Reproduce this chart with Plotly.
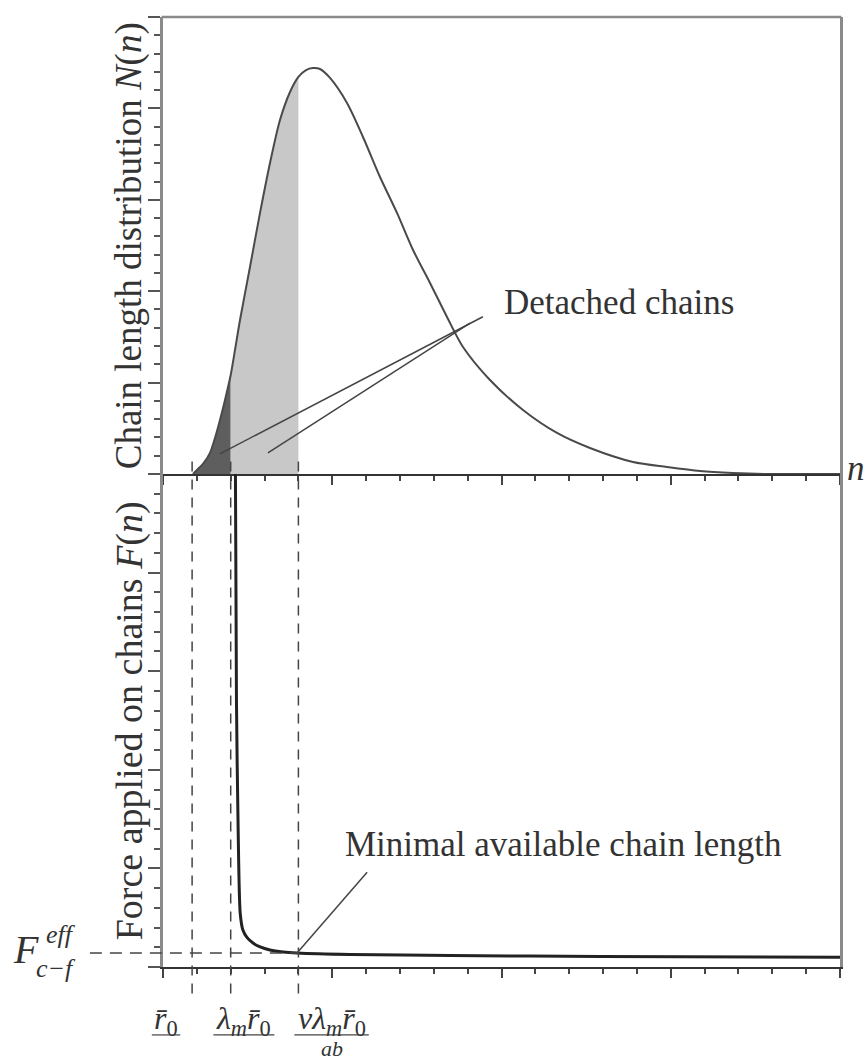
import plotly.graph_objects as go

# ---------------- data ----------------
# chain length distribution N(n)   (x: n in axis units 0..20, y: 0..5)
N_X = [0.886, 1.004, 1.182, 1.388, 1.536, 1.684, 1.832, 2.000, 2.127, 2.275, 2.570, 2.866,
       3.161, 3.456, 3.752, 4.000, 4.224, 4.431, 4.638, 4.934, 5.436, 5.908, 6.411, 6.913,
       7.386, 7.888, 8.390, 8.863, 9.660, 10.635, 11.640, 12.614, 13.885, 14.889, 15.864,
       16.839, 17.814, 20.0]
N_Y = [0.000, 0.044, 0.109, 0.230, 0.394, 0.591, 0.810, 1.083, 1.357, 1.685, 2.265, 2.856,
       3.403, 3.873, 4.179, 4.344, 4.420, 4.442, 4.431, 4.333, 4.059, 3.687, 3.249, 2.856,
       2.451, 2.090, 1.718, 1.389, 1.028, 0.700, 0.449, 0.284, 0.131, 0.077, 0.033,
       0.011, 0.0, 0.0]

# force applied on chains F(n)
F_X = [2.14, 2.17, 2.22, 2.28, 2.36, 2.48, 2.66, 2.87, 3.16, 3.55, 3.96, 5.52, 8.48, 12.91, 20.0]
F_Y = [5.0, 2.71, 1.39, 0.55, 0.375, 0.30, 0.243, 0.203, 0.172, 0.152, 0.142, 0.127, 0.117, 0.106, 0.10]

# characteristic lengths (dashed verticals) and effective force
R0 = 0.86
LAM_R0 = 2.0
NU_LAM_R0 = 4.0
F_EFF = 0.142

X_RANGE = [0, 20]
Y_RANGE = [0, 5]

TICK_LABELS = ["<i>r̄</i><sub>0</sub>",
               "<i>λ</i><sub><i>m</i></sub><i>r̄</i><sub>0</sub>",
               "<i>νλ</i><sub><i>m</i></sub><i>r̄</i><sub>0</sub>"]
TICK_LABEL_X = [0.09, 2.39, 4.98]     # label centres (n units)
TICK_BAR_HALF = [0.42, 0.9, 1.1]      # half width of fraction bars (n units)
DENOM = "<i>ab</i>"

# annotation leaders
DET_TEXT = "Detached chains"
DET_TEXT_POS = (10.0, 1.88)
DET_LINES = [((9.45, 1.72), (1.68, 0.22)), ((9.07, 1.65), (3.10, 0.23))]
MIN_TEXT = "Minimal available chain length"
MIN_TEXT_POS = (5.32, 1.24)
MIN_LINE = ((6.03, 0.96), (NU_LAM_R0 - 0.04, F_EFF))

FONT = "Liberation Serif"
TOP_DOM = [0.519, 1.0]
BOT_DOM = [0.0, 0.519]
INK = "#333333"

fig = go.Figure()

dark_x = [x for x in N_X if x <= LAM_R0]
dark_y = [y for x, y in zip(N_X, N_Y) if x <= LAM_R0]
light_x = [x for x in N_X if LAM_R0 <= x <= NU_LAM_R0]
light_y = [y for x, y in zip(N_X, N_Y) if LAM_R0 <= x <= NU_LAM_R0]

fig.add_trace(go.Scatter(x=dark_x, y=dark_y, mode="lines", fill="tozeroy",
                         fillcolor="#5e5e5e", line=dict(width=0, shape="spline", smoothing=0.8),
                         xaxis="x", yaxis="y", hoverinfo="skip", showlegend=False))
fig.add_trace(go.Scatter(x=light_x, y=light_y, mode="lines", fill="tozeroy",
                         fillcolor="#c8c8c8", line=dict(width=0, shape="spline", smoothing=0.8),
                         xaxis="x", yaxis="y", hoverinfo="skip", showlegend=False))
fig.add_trace(go.Scatter(x=N_X, y=N_Y, mode="lines",
                         line=dict(color="#4a4a4a", width=2, shape="spline", smoothing=0.8),
                         xaxis="x", yaxis="y", showlegend=False))
fig.add_trace(go.Scatter(x=F_X, y=F_Y, mode="lines",
                         line=dict(color="#222222", width=3, shape="spline", smoothing=0.7),
                         xaxis="x2", yaxis="y2", showlegend=False))

xax = dict(range=X_RANGE, showline=True, linecolor="#333333", linewidth=2,
           ticks="outside", ticklen=9, tickwidth=1.5, tickcolor="#444444",
           tick0=0, dtick=5, showticklabels=False, showgrid=False, zeroline=False,
           minor=dict(dtick=1, ticks="outside", ticklen=5, tickwidth=1.5, tickcolor="#444444"))
yax = dict(range=Y_RANGE, showline=True, linecolor="#8a8a8a", linewidth=2.5,
           ticks="outside", ticklen=12, tickwidth=1.5, tickcolor="#555555",
           tick0=0, dtick=1, showticklabels=False, showgrid=False, zeroline=False,
           mirror=True,
           minor=dict(dtick=0.2, ticks="outside", ticklen=6, tickwidth=1.5, tickcolor="#555555"))

fig.update_layout(
    width=866, height=1061,
    margin=dict(l=163, r=26, t=17, b=94, pad=0),
    paper_bgcolor="white", plot_bgcolor="white",
    font=dict(family=FONT, size=35, color=INK),
    xaxis=dict(xax, domain=[0, 1], anchor="y"),
    yaxis=dict(yax, domain=TOP_DOM, anchor="x"),
    xaxis2=dict(xax, domain=[0, 1], anchor="y2", matches="x"),
    yaxis2=dict(yax, domain=BOT_DOM, anchor="x2"),
    showlegend=False,
)

# top frame line
fig.add_shape(type="line", xref="paper", yref="paper", x0=-0.002, x1=1.002, y0=1, y1=1,
              line=dict(color="#8a8a8a", width=2.5))

# dashed verticals
for xv in [R0, LAM_R0, NU_LAM_R0]:
    fig.add_shape(type="line", xref="x", yref="paper", x0=xv, x1=xv,
                  y0=TOP_DOM[0] + 0.013, y1=-0.036,
                  line=dict(color="#444444", width=1.5, dash="10px,8px"), layer="above")
# F_eff dashed horizontal
fig.add_shape(type="line", xref="paper", yref="y2", x0=-0.108, x1=NU_LAM_R0 / X_RANGE[1],
              y0=F_EFF, y1=F_EFF, line=dict(color="#444444", width=1.5, dash="12px,8px"))

# leader lines
for (a, b) in DET_LINES:
    fig.add_shape(type="line", xref="x", yref="y", x0=a[0], y0=a[1], x1=b[0], y1=b[1],
                  line=dict(color="#444444", width=1.5))
fig.add_shape(type="line", xref="x2", yref="y2", x0=MIN_LINE[0][0], y0=MIN_LINE[0][1],
              x1=MIN_LINE[1][0], y1=MIN_LINE[1][1], line=dict(color="#444444", width=1.5))

fig.add_annotation(x=DET_TEXT_POS[0], y=DET_TEXT_POS[1], xref="x", yref="y", text=DET_TEXT,
                   showarrow=False, xanchor="left", yanchor="middle", font=dict(size=35))
fig.add_annotation(x=MIN_TEXT_POS[0], y=MIN_TEXT_POS[1], xref="x2", yref="y2", text=MIN_TEXT,
                   showarrow=False, xanchor="left", yanchor="middle", font=dict(size=35))

# axis titles
fig.add_annotation(x=-0.049, y=sum(TOP_DOM) / 2, xref="paper", yref="paper", textangle=-90,
                   text="Chain length distribution <i>N</i>(<i>n</i>)", showarrow=False,
                   xanchor="center", yanchor="middle", font=dict(size=37))
fig.add_annotation(x=-0.049, y=sum(BOT_DOM) / 2, xref="paper", yref="paper", textangle=-90,
                   text="Force applied on chains <i>F</i>(<i>n</i>)", showarrow=False,
                   xanchor="center", yanchor="middle", font=dict(size=38))

# n label
fig.add_annotation(x=1.007, y=TOP_DOM[0] + 0.006, xref="paper", yref="paper", text="<i>n</i>",
                   showarrow=False, xanchor="left", yanchor="middle", font=dict(size=35))

# F_eff label
fig.add_annotation(x=-0.225, y=0.018, xref="paper", yref="paper", text="<i>F</i>",
                   showarrow=False, xanchor="left", yanchor="middle", font=dict(size=40))
fig.add_annotation(x=-0.176, y=0.034, xref="paper", yref="paper", text="<i>eff</i>",
                   showarrow=False, xanchor="left", yanchor="middle", font=dict(size=26))
fig.add_annotation(x=-0.190, y=-0.002, xref="paper", yref="paper", text="<i>c−f</i>",
                   showarrow=False, xanchor="left", yanchor="middle", font=dict(size=26))

# bottom labels with fraction bars
for lab, cx, hw in zip(TICK_LABELS, TICK_LABEL_X, TICK_BAR_HALF):
    fig.add_annotation(x=cx / X_RANGE[1], y=-0.056, xref="paper", yref="paper", text=lab,
                       showarrow=False, xanchor="center", yanchor="middle", font=dict(size=32))
    fig.add_shape(type="line", xref="paper", yref="paper", x0=(cx - hw) / X_RANGE[1],
                  x1=(cx + hw) / X_RANGE[1], y0=-0.0715, y1=-0.0715,
                  line=dict(color="#444444", width=1.2))
fig.add_annotation(x=TICK_LABEL_X[2] / X_RANGE[1], y=-0.0855, xref="paper", yref="paper", text=DENOM,
                   showarrow=False, xanchor="center", yanchor="middle", font=dict(size=22))

fig.write_html("out.html")
